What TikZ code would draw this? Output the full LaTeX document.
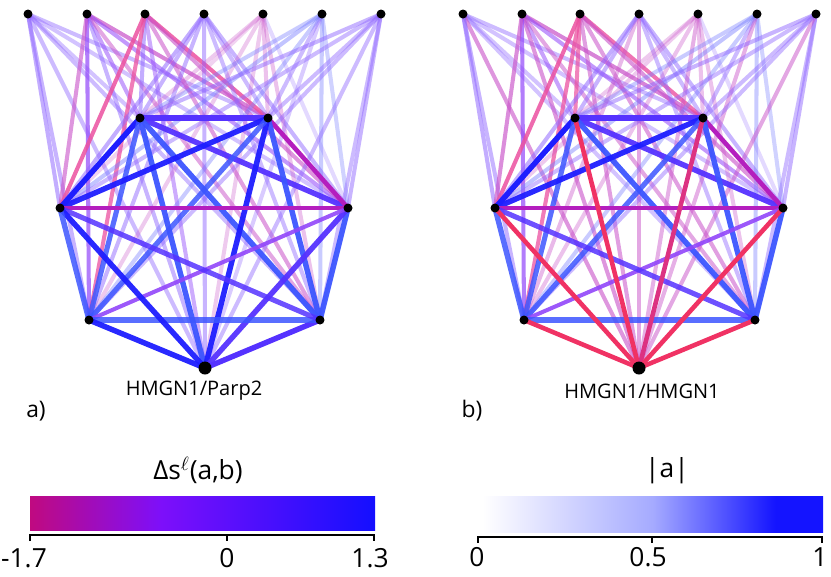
\documentclass[tikz,border=0pt]{standalone}
\usepackage{fontspec}
\setmainfont{Open Sans}
\usetikzlibrary{backgrounds}

% edge colours (before opacity)
\definecolor{cBlue}{RGB}{30,30,255}
\definecolor{cBlueL}{RGB}{60,85,255}
\definecolor{cViolet}{RGB}{85,50,255}
\definecolor{cPurple}{RGB}{145,70,250}
\definecolor{cMagenta}{RGB}{180,30,190}
\definecolor{cRed}{RGB}{240,50,100}
\definecolor{cCrimson}{RGB}{220,50,130}
\definecolor{cPink}{RGB}{235,80,160}
\definecolor{cRose}{RGB}{200,80,200}
\definecolor{cLav}{RGB}{145,105,255}
\definecolor{cLavB}{RGB}{120,125,255}
% colour bars
\definecolor{cbMag}{RGB}{192,10,128}
\definecolor{cbVio}{RGB}{125,15,250}
\definecolor{cbBlu}{RGB}{20,15,255}
\definecolor{cbMid}{RGB}{165,170,255}
\definecolor{cbDeep}{RGB}{20,20,255}

% bar shadings (path box = 25bp..75bp)
\pgfdeclarehorizontalshading{dsbar}{100bp}{color(0bp)=(cbMag); color(25bp)=(cbMag);
	color(44bp)=(cbVio); color(75bp)=(cbBlu); color(100bp)=(cbBlu)}
\pgfdeclarehorizontalshading{absbar}{100bp}{color(0bp)=(white); color(25bp)=(white);
	color(50bp)=(cbMid); color(68bp)=(cbDeep); color(75bp)=(cbDeep); color(100bp)=(cbDeep)}

\begin{document}
\begin{tikzpicture}[x=0.02cm,y=-0.02cm]
	
	% ------------------------------------------------------------
	% Styles
	% ------------------------------------------------------------
	\tikzset{
		dot/.style={circle,fill=black,inner sep=0pt,minimum size=0.18cm},
		bigdot/.style={dot,minimum size=0.26cm},
		gname/.style={font=\fontsize{11.4}{13}\selectfont},
		panel/.style={font=\fontsize{13}{15}\selectfont},
		barlab/.style={font=\fontsize{15}{17}\selectfont},
		axisln/.style={line width=0.7pt,black}
	}
	
	\useasboundingbox (0,0) rectangle (831,576);
	
	% node positions (pixels), same for both panels
	\def\nodelist{t1/28/14,t2/87/14,t3/145/14,t4/204/14,t5/263/14,t6/322/14,t7/381/14,
		h1/140/118,h2/268/118,h3/348/208,h4/320/320,h6/89/320,h7/60/208}
	
	% ============================================================
	% Edge lists  from/to/colour/opacity/width
	% ============================================================
	\def\topA{t1/h1/cLav/0.4/2.3,t1/h2/cLav/0.45/2.3,t1/h3/cLav/0.4/2.3,t1/h4/cLav/0.45/2.3,
		t1/h5/cLav/0.45/2.3,t1/h6/cLav/0.5/2.3,t1/h7/cLav/0.55/2.3,
		t2/h1/cPurple/0.5/2.3,t2/h2/cRose/0.7/2.3,t2/h3/cPurple/0.55/2.3,t2/h4/cRose/0.5/2.3,
		t2/h5/cLav/0.5/2.3,t2/h6/cPurple/0.7/2.3,t2/h7/cRose/0.6/2.3,
		t3/h1/cLav/0.55/2.3,t3/h2/cPink/0.85/2.3,t3/h3/cRose/0.6/2.3,t3/h4/cRose/0.55/2.3,
		t3/h5/cPurple/0.45/2.3,t3/h6/cPink/0.75/2.3,t3/h7/cPink/0.85/2.3,
		t4/h1/cLav/0.5/2.3,t4/h2/cLav/0.45/2.3,t4/h3/cLav/0.5/2.3,t4/h4/cLav/0.45/2.3,
		t4/h5/cLav/0.5/2.3,t4/h6/cLav/0.5/2.3,t4/h7/cLav/0.55/2.3,
		t5/h1/cRose/0.3/2.3,t5/h2/cRose/0.35/2.3,t5/h3/cLav/0.25/2.3,t5/h4/cRose/0.35/2.3,
		t5/h5/cRose/0.3/2.3,t5/h6/cRose/0.3/2.3,t5/h7/cRose/0.25/2.3,
		t6/h1/cLavB/0.4/2.3,t6/h2/cLav/0.45/2.3,t6/h3/cLavB/0.35/2.3,t6/h4/cLavB/0.4/2.3,
		t6/h5/cLav/0.35/2.3,t6/h6/cLavB/0.4/2.3,t6/h7/cLavB/0.45/2.3,
		t7/h1/cLav/0.5/2.3,t7/h2/cLav/0.45/2.3,t7/h3/cLav/0.5/2.3,t7/h4/cLav/0.45/2.3,
		t7/h5/cLav/0.45/2.3,t7/h6/cLav/0.45/2.3,t7/h7/cLav/0.45/2.3}
	
	\def\topB{t1/h1/cLav/0.4/2.3,t1/h2/cLav/0.45/2.3,t1/h3/cLav/0.4/2.3,t1/h4/cLav/0.4/2.3,
		t1/h5/cRose/0.6/2.3,t1/h6/cLav/0.5/2.3,t1/h7/cLav/0.55/2.3,
		t2/h1/cPurple/0.5/2.3,t2/h2/cRose/0.7/2.3,t2/h3/cPurple/0.55/2.3,t2/h4/cRose/0.5/2.3,
		t2/h5/cRose/0.6/2.3,t2/h6/cPurple/0.7/2.3,t2/h7/cRose/0.65/2.3,
		t3/h1/cPink/0.7/2.3,t3/h2/cPink/0.8/2.3,t3/h3/cRose/0.6/2.3,t3/h4/cRose/0.55/2.3,
		t3/h5/cRose/0.55/2.3,t3/h6/cPink/0.75/2.3,t3/h7/cPink/0.85/2.3,
		t4/h1/cLav/0.5/2.3,t4/h2/cLav/0.45/2.3,t4/h3/cLav/0.5/2.3,t4/h4/cLav/0.45/2.3,
		t4/h5/cRose/0.5/2.3,t4/h6/cRose/0.4/2.3,t4/h7/cLav/0.55/2.3,
		t5/h1/cRose/0.3/2.3,t5/h2/cRose/0.35/2.3,t5/h3/cLav/0.25/2.3,t5/h4/cRose/0.35/2.3,
		t5/h5/cRose/0.45/2.3,t5/h6/cRose/0.35/2.3,t5/h7/cRose/0.3/2.3,
		t6/h1/cLavB/0.4/2.3,t6/h2/cLav/0.45/2.3,t6/h3/cLavB/0.35/2.3,t6/h4/cLavB/0.4/2.3,
		t6/h5/cRose/0.45/2.3,t6/h6/cLavB/0.4/2.3,t6/h7/cLavB/0.45/2.3,
		t7/h1/cLav/0.5/2.3,t7/h2/cLav/0.45/2.3,t7/h3/cLav/0.5/2.3,t7/h4/cLav/0.45/2.3,
		t7/h5/cRose/0.5/2.3,t7/h6/cLav/0.45/2.3,t7/h7/cLav/0.45/2.3}
	
	\def\heptA{h1/h2/cViolet/1/3.1,h1/h7/cBlue/1/3.1,h1/h3/cViolet/0.95/3.1,
		h1/h4/cBlueL/0.95/3.1,h1/h5/cBlueL/0.95/3.1,h1/h6/cBlueL/0.85/2.9,
		h2/h7/cBlue/0.95/3.1,h2/h3/cMagenta/1/2.6,h2/h4/cBlueL/0.95/3.1,
		h2/h5/cBlue/0.95/3.1,h2/h6/cBlueL/0.85/2.9,h3/h7/cMagenta/1/2.5,
		h3/h4/cBlueL/0.95/3.1,h3/h5/cViolet/0.95/3.1,h3/h6/cPurple/0.9/2.3,
		h4/h5/cViolet/1/3.1,h4/h6/cBlueL/0.85/2.9,h4/h7/cViolet/0.85/2.9,
		h5/h6/cBlue/0.95/3.1,h5/h7/cBlue/0.95/3.1,h6/h7/cBlueL/0.85/3.1}
	
	\def\heptB{h1/h2/cViolet/1/3.1,h1/h7/cBlue/1/3.1,h1/h3/cViolet/0.95/3.1,
		h1/h4/cBlueL/0.95/3.1,h1/h6/cBlueL/0.85/2.9,
		h2/h7/cBlue/0.95/3.1,h2/h3/cMagenta/1/2.6,h2/h4/cBlueL/0.95/3.1,
		h2/h6/cBlueL/0.85/2.9,h3/h7/cMagenta/1/2.5,
		h3/h4/cBlueL/0.95/3.1,h3/h6/cPurple/0.9/2.3,
		h4/h6/cBlueL/0.85/2.9,h4/h7/cViolet/0.85/2.9,h6/h7/cBlueL/0.85/3.1,
		h1/h5/cRed/1/2.6,h2/h5/cCrimson/1/2.6,h3/h5/cRed/1/2.6,
		h4/h5/cRed/1/2.6,h5/h6/cRed/1/2.6,h5/h7/cRed/1/2.6}
	
	% ============================================================
	% LEFT: HMGN1/Parp2
	% ============================================================
	\foreach \n/\x/\y in \nodelist {
		\node[dot] (a\n) at (\x,\y) {};
	}
	\node[bigdot] (ah5) at (205,368) {};
	
	\begin{scope}[on background layer]
		\foreach \u/\v/\c/\o/\w in \topA {
			\draw[draw=\c,draw opacity=\o,line width=\w pt] (a\u.center) -- (a\v.center);
		}
		\foreach \u/\v/\c/\o/\w in \heptA {
			\draw[draw=\c,draw opacity=\o,line width=\w pt] (a\u.center) -- (a\v.center);
		}
	\end{scope}
	
	\node[gname] (nameA) at (194,391) {HMGN1/Parp2};
	\node[panel] (panA) at (36,411) {a)};
	
	% ============================================================
	% RIGHT: HMGN1/HMGN1
	% ============================================================
	\begin{scope}[shift={(435,0)}]
		\foreach \n/\x/\y in \nodelist {
			\node[dot] (b\n) at (\x,\y) {};
		}
		\node[bigdot] (bh5) at (204,368) {};
	\end{scope}
	
	\begin{scope}[on background layer]
		\foreach \u/\v/\c/\o/\w in \topB {
			\draw[draw=\c,draw opacity=\o,line width=\w pt] (b\u.center) -- (b\v.center);
		}
		\foreach \u/\v/\c/\o/\w in \heptB {
			\draw[draw=\c,draw opacity=\o,line width=\w pt] (b\u.center) -- (b\v.center);
		}
	\end{scope}
	
	\node[gname] (nameB) at (642,391) {HMGN1/HMGN1};
	\node[panel] (panB) at (472,411) {b)};
	
	% ============================================================
	% Colour bars
	% ============================================================
	% Delta s bar
	\node[barlab] (ttlA) at (198,470) {Δs$^{\ell}$(a,b)};
	\shade[shading=dsbar] (30,496) rectangle (375,530);
	\draw[axisln] (30,541) -- (30,535) -- (374,535) -- (374,541);
	\draw[axisln] (227,535) -- (227,541);
	\node[barlab] (tkA1) at (24,558) {-1.7};
	\node[barlab] (tkA2) at (227,558) {0};
	\node[barlab] (tkA3) at (370,558) {1.3};
	
	% |a| bar
	\node[barlab] (ttlB) at (667,471) {|a|};
	\shade[shading=absbar] (483,496) rectangle (823,532);
	\draw[axisln] (478,543) -- (478,537) -- (822,537) -- (822,543);
	\draw[axisln] (652,537) -- (652,543);
	\node[barlab] (tkB1) at (477,557) {0};
	\node[barlab] (tkB2) at (648,557) {0.5};
	\node[barlab] (tkB3) at (820,557) {1};
	
\end{tikzpicture}
\end{document}
